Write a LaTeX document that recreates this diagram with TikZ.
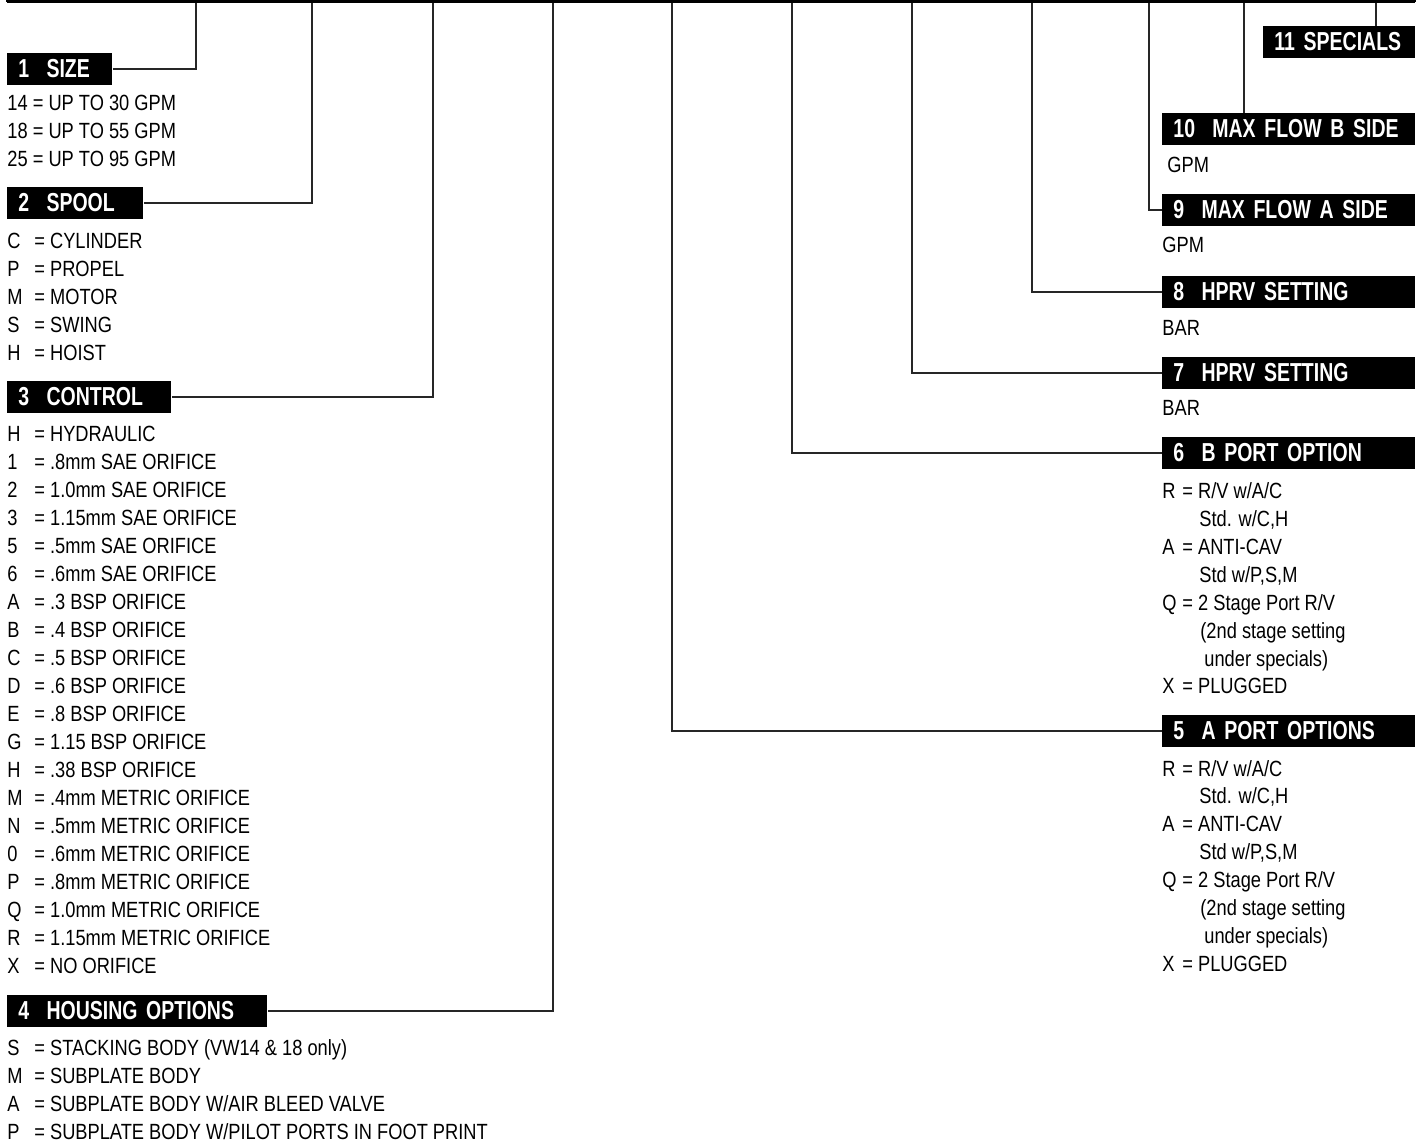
\documentclass[tikz,border=0pt]{standalone}
\usepackage{fontspec}
\setmainfont{Liberation Sans}[FakeStretch=0.83]
\newfontfamily\hdrfont{Liberation Sans}[FakeStretch=0.75]
\usetikzlibrary{positioning,calc}

\tikzset{
  hdr/.style={fill=black,text=white,anchor=west,align=left,
    font=\hdrfont\bfseries\fontsize{13}{15}\selectfont,
    inner xsep=5.5pt,inner ysep=0pt,minimum height=16pt},
  item/.style={anchor=base west,inner sep=0pt,font=\fontsize{11}{13}\selectfont},
  lead/.style={line width=0.75pt,black!85}
}

\begin{document}
\begin{tikzpicture}[x=0.5pt,y=-0.5pt]
  \useasboundingbox (0,0) rectangle (1421,1146);
  % code boxes along the top
  \draw[line width=1.5pt] (7,1.5) -- (1415,1.5);
  \foreach \x in {7,130,253,373,490,617,737,853,977,1087,1212,1335,1415}
    \draw[line width=1pt] (\x,-6) -- (\x,2);

  % top ends of the leaders
  \coordinate (t1) at (196,3);
  \coordinate (t2) at (312,3);
  \coordinate (t3) at (433,3);
  \coordinate (t4) at (553,3);
  \coordinate (t5) at (672,3);
  \coordinate (t6) at (792,3);
  \coordinate (t7) at (912,3);
  \coordinate (t8) at (1032,3);
  \coordinate (t9) at (1149,3);
  \coordinate (t10) at (1244,3);
  \coordinate (t11) at (1376,3);

  % left column
  \node[hdr,text width=41.5pt] (h1) at (7,69) {1\ \ SIZE};
  \foreach \t [count=\i from 0] in {14 = UP TO 30 GPM,18 = UP TO 55 GPM,25 = UP TO 95 GPM}
    \node[item] (sz\i) at (7,110.5+28*\i) {\t};

  \node[hdr,text width=57pt] (h2) at (7,203) {2\ \ SPOOL};
  \foreach \c/\t [count=\i from 0] in {C/CYLINDER,P/PROPEL,M/MOTOR,S/SWING,H/HOIST}{
    \node[item] (spc\i) at (7,248.5+28*\i) {\c};
    \node[item] (spt\i) at (34,248.5+28*\i) {=\ \t};
  }

  \node[hdr,text width=71pt] (h3) at (7,397) {3\ \ CONTROL};
  \foreach \c/\t [count=\i from 0] in {H/HYDRAULIC,1/.8mm SAE ORIFICE,2/1.0mm SAE ORIFICE,
      3/1.15mm SAE ORIFICE,5/.5mm SAE ORIFICE,6/.6mm SAE ORIFICE,A/.3 BSP ORIFICE,
      B/.4 BSP ORIFICE,C/.5 BSP ORIFICE,D/.6 BSP ORIFICE,E/.8 BSP ORIFICE,
      G/1.15 BSP ORIFICE,H/.38 BSP ORIFICE,M/.4mm METRIC ORIFICE,N/.5mm METRIC ORIFICE,
      0/.6mm METRIC ORIFICE,P/.8mm METRIC ORIFICE,Q/1.0mm METRIC ORIFICE,
      R/1.15mm METRIC ORIFICE,X/NO ORIFICE}{
    \node[item] (ctc\i) at (7,441.5+28*\i) {\c};
    \node[item] (ctt\i) at (34,441.5+28*\i) {=\ \t};
  }

  \node[hdr,text width=119pt] (h4) at (7,1011) {4\ \ HOUSING OPTIONS};
  \foreach \c/\t [count=\i from 0] in {S/{STACKING BODY (VW14 \& 18 only)},M/{SUBPLATE BODY},
      A/{SUBPLATE BODY W/AIR BLEED VALVE},P/{SUBPLATE BODY W/PILOT PORTS IN FOOT PRINT}}{
    \node[item] (hoc\i) at (7,1055.5+28*\i) {\c};
    \node[item] (hot\i) at (34,1055.5+28*\i) {=\ \t};
  }

  % right column
  \node[hdr,text width=65pt] (h11) at (1263,42) {11 SPECIALS};

  \node[hdr,text width=115.5pt] (h10) at (1162,129) {10\ \ MAX FLOW B SIDE};
  \node[item] (g10) at (1167,172.5) {GPM};

  \node[hdr,text width=115.5pt] (h9) at (1162,210) {9\ \ MAX FLOW A SIDE};
  \node[item] (g9) at (1162,252.5) {GPM};

  \node[hdr,text width=115.5pt] (h8) at (1162,292) {8\ \ HPRV SETTING};
  \node[item] (b8) at (1162,335.5) {BAR};

  \node[hdr,text width=115.5pt] (h7) at (1162,373) {7\ \ HPRV SETTING};
  \node[item] (b7) at (1162,415.5) {BAR};

  \node[hdr,text width=115.5pt] (h6) at (1162,453) {6\ \ B PORT OPTION};
  \node[item] (b6a) at (1162,498.5) {R};
  \node[item] (b6b) at (1182,498.5) {=\ R/V w/A/C};
  \node[item] (b6c) at (1199,526.5) {Std. w/C,H};
  \node[item] (b6d) at (1162,554.5) {A};
  \node[item] (b6e) at (1182,554.5) {=\ ANTI-CAV};
  \node[item] (b6f) at (1199,582.5) {Std w/P,S,M};
  \node[item] (b6g) at (1162,610.5) {Q};
  \node[item] (b6h) at (1182,610.5) {=\ 2 Stage Port R/V};
  \node[item] (b6i) at (1200,638.5) {(2nd stage setting};
  \node[item] (b6j) at (1204,666.5) {under specials)};
  \node[item] (b6k) at (1162,693.5) {X};
  \node[item] (b6l) at (1182,693.5) {=\ PLUGGED};

  \node[hdr,text width=115.5pt] (h5) at (1162,731) {5\ \ A PORT OPTIONS};
  \node[item] (a5a) at (1162,776.5) {R};
  \node[item] (a5b) at (1182,776.5) {=\ R/V w/A/C};
  \node[item] (a5c) at (1199,803.5) {Std. w/C,H};
  \node[item] (a5d) at (1162,831.5) {A};
  \node[item] (a5e) at (1182,831.5) {=\ ANTI-CAV};
  \node[item] (a5f) at (1199,859.5) {Std w/P,S,M};
  \node[item] (a5g) at (1162,887.5) {Q};
  \node[item] (a5h) at (1182,887.5) {=\ 2 Stage Port R/V};
  \node[item] (a5i) at (1200,915.5) {(2nd stage setting};
  \node[item] (a5j) at (1204,943.5) {under specials)};
  \node[item] (a5k) at (1162,971.5) {X};
  \node[item] (a5l) at (1182,971.5) {=\ PLUGGED};

  % leaders
  \draw[lead] (h1.east) -| (t1);
  \draw[lead] (h2.east) -| (t2);
  \draw[lead] (h3.east) -| (t3);
  \draw[lead] (h4.east) -| (t4);
  \draw[lead] (h5.west) -| (t5);
  \draw[lead] (h6.west) -| (t6);
  \draw[lead] (h7.west) -| (t7);
  \draw[lead] (h8.west) -| (t8);
  \draw[lead] (h9.west) -| (t9);
  \draw[lead] (t10) -- (t10 |- h10.north);
  \draw[lead] (t11) -- (t11 |- h11.north);
\end{tikzpicture}
\end{document}
